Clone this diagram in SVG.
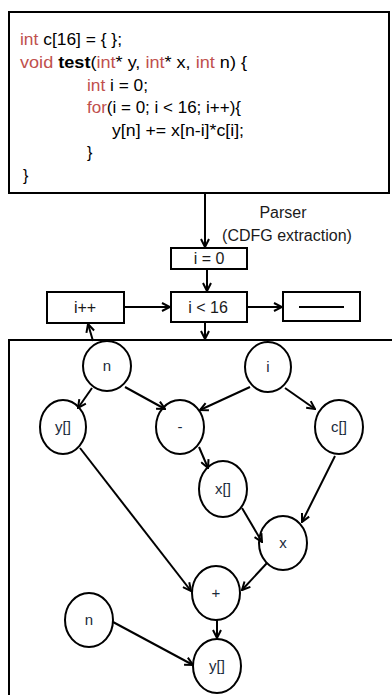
<svg xmlns="http://www.w3.org/2000/svg" width="392" height="695" viewBox="0 0 392 695">
<style>
  .box{fill:#fff;stroke:#000;stroke-width:2}
  .nd{fill:#fff;stroke:#000;stroke-width:2}
  .code{font-family:"Liberation Sans",Arial,sans-serif;font-size:16px;fill:#000}
  .kw{fill:#c0504d}
  .lbl{font-family:"Liberation Sans",Arial,sans-serif;font-size:16px;fill:#1a1a1a;text-anchor:middle}
  .nl{font-family:"Liberation Sans",Arial,sans-serif;font-size:15px;fill:#1a2a3a;text-anchor:middle}
  .e{fill:none;stroke:#000;stroke-width:2;marker-end:url(#ah)}
</style>
<defs>
  <marker id="ah" markerUnits="userSpaceOnUse" viewBox="0 0 10 10" refX="9" refY="5" markerWidth="10" markerHeight="10" orient="auto">
    <path d="M1,1 L9,5 L1,9" fill="none" stroke="#000" stroke-width="2"/>
  </marker>
</defs>
<rect width="392" height="695" fill="#fff"/>

<g id="code">
  <rect class="box" x="9" y="12" width="380" height="181"/>
  <text class="code" x="20" y="45" textLength="102" lengthAdjust="spacingAndGlyphs"><tspan class="kw">int</tspan> c[16] = { };</text>
  <text class="code" x="20" y="68" textLength="227" lengthAdjust="spacingAndGlyphs"><tspan class="kw">void</tspan> <tspan font-weight="bold">test</tspan>(<tspan class="kw">int</tspan>* y, <tspan class="kw">int</tspan>* x, <tspan class="kw">int</tspan> n) {</text>
  <text class="code" x="87" y="91" textLength="61" lengthAdjust="spacingAndGlyphs"><tspan class="kw">int</tspan> i = 0;</text>
  <text class="code" x="87" y="113" textLength="154" lengthAdjust="spacingAndGlyphs"><tspan class="kw">for</tspan>(i = 0; i &lt; 16; i++){</text>
  <text class="code" x="112" y="136" textLength="132" lengthAdjust="spacingAndGlyphs">y[n] += x[n-i]*c[i];</text>
  <text class="code" x="87" y="158">}</text>
  <text class="code" x="23" y="181">}</text>
</g>

<g id="parser-label">
  <text class="lbl" x="283" y="218">Parser</text>
  <text class="lbl" x="287" y="241">(CDFG extraction)</text>
</g>

<g id="i0">
  <rect class="box" x="171" y="248" width="76" height="21"/>
  <text class="lbl" x="209" y="264">i = 0</text>
</g>
<g id="icond">
  <rect class="box" x="171" y="292" width="76" height="30"/>
  <text class="lbl" x="208" y="313">i &lt; 16</text>
</g>
<g id="iinc">
  <rect class="box" x="47" y="292" width="77" height="31"/>
  <text class="lbl" x="85" y="313">i++</text>
</g>
<g id="exit">
  <rect class="box" x="283" y="292" width="77" height="29"/>
  <line x1="299" y1="307" x2="344" y2="307" stroke="#000" stroke-width="2"/>
</g>

<g id="body">
  <rect class="box" x="9" y="340" width="392" height="400"/>
</g>

<g id="n1"><ellipse class="nd" cx="107" cy="366" rx="24" ry="25"/><text class="nl" x="107" y="371">n</text></g>
<g id="i1"><ellipse class="nd" cx="268" cy="367" rx="23" ry="25"/><text class="nl" x="268" y="372">i</text></g>
<g id="y1"><ellipse class="nd" cx="63" cy="427" rx="23" ry="27"/><text class="nl" x="63" y="432">y[]</text></g>
<g id="minus"><ellipse class="nd" cx="180" cy="427" rx="24" ry="27"/><text class="nl" x="180" y="432">-</text></g>
<g id="c1"><ellipse class="nd" cx="339" cy="427" rx="24" ry="27"/><text class="nl" x="339" y="432">c[]</text></g>
<g id="x1"><ellipse class="nd" cx="223" cy="489" rx="24" ry="28"/><text class="nl" x="223" y="494">x[]</text></g>
<g id="mul"><ellipse class="nd" cx="283" cy="543" rx="24" ry="27"/><text class="nl" x="283" y="548">x</text></g>
<g id="plus"><ellipse class="nd" cx="216" cy="593" rx="24" ry="27"/><text class="nl" x="216" y="598">+</text></g>
<g id="n2"><ellipse class="nd" cx="89" cy="620" rx="24" ry="27"/><text class="nl" x="89" y="625">n</text></g>
<g id="y2"><ellipse class="nd" cx="217" cy="666" rx="24" ry="27"/><text class="nl" x="217" y="671">y[]</text></g>

<g id="connectors">
  <line class="e" x1="205" y1="193" x2="205" y2="247"/>
  <line class="e" x1="207" y1="269" x2="207" y2="291"/>
  <line class="e" x1="205" y1="322" x2="205" y2="339"/>
  <line class="e" x1="124" y1="307" x2="170" y2="307"/>
  <line class="e" x1="247" y1="307" x2="282" y2="307"/>
  <line class="e" x1="93" y1="341" x2="88" y2="324"/>
  <line class="e" x1="92" y1="388" x2="78" y2="408"/>
  <line class="e" x1="125" y1="387" x2="165" y2="409"/>
  <line class="e" x1="250" y1="387" x2="200" y2="410"/>
  <line class="e" x1="285" y1="388" x2="315" y2="409"/>
  <line class="e" x1="199" y1="447" x2="208" y2="468"/>
  <line class="e" x1="335" y1="456" x2="302" y2="522"/>
  <line class="e" x1="80" y1="448" x2="191" y2="591"/>
  <line class="e" x1="242" y1="508" x2="262" y2="542"/>
  <line class="e" x1="267" y1="563" x2="242" y2="590"/>
  <line class="e" x1="217" y1="620" x2="217" y2="638"/>
  <line class="e" x1="113" y1="622" x2="193" y2="665"/>
</g>
</svg>
